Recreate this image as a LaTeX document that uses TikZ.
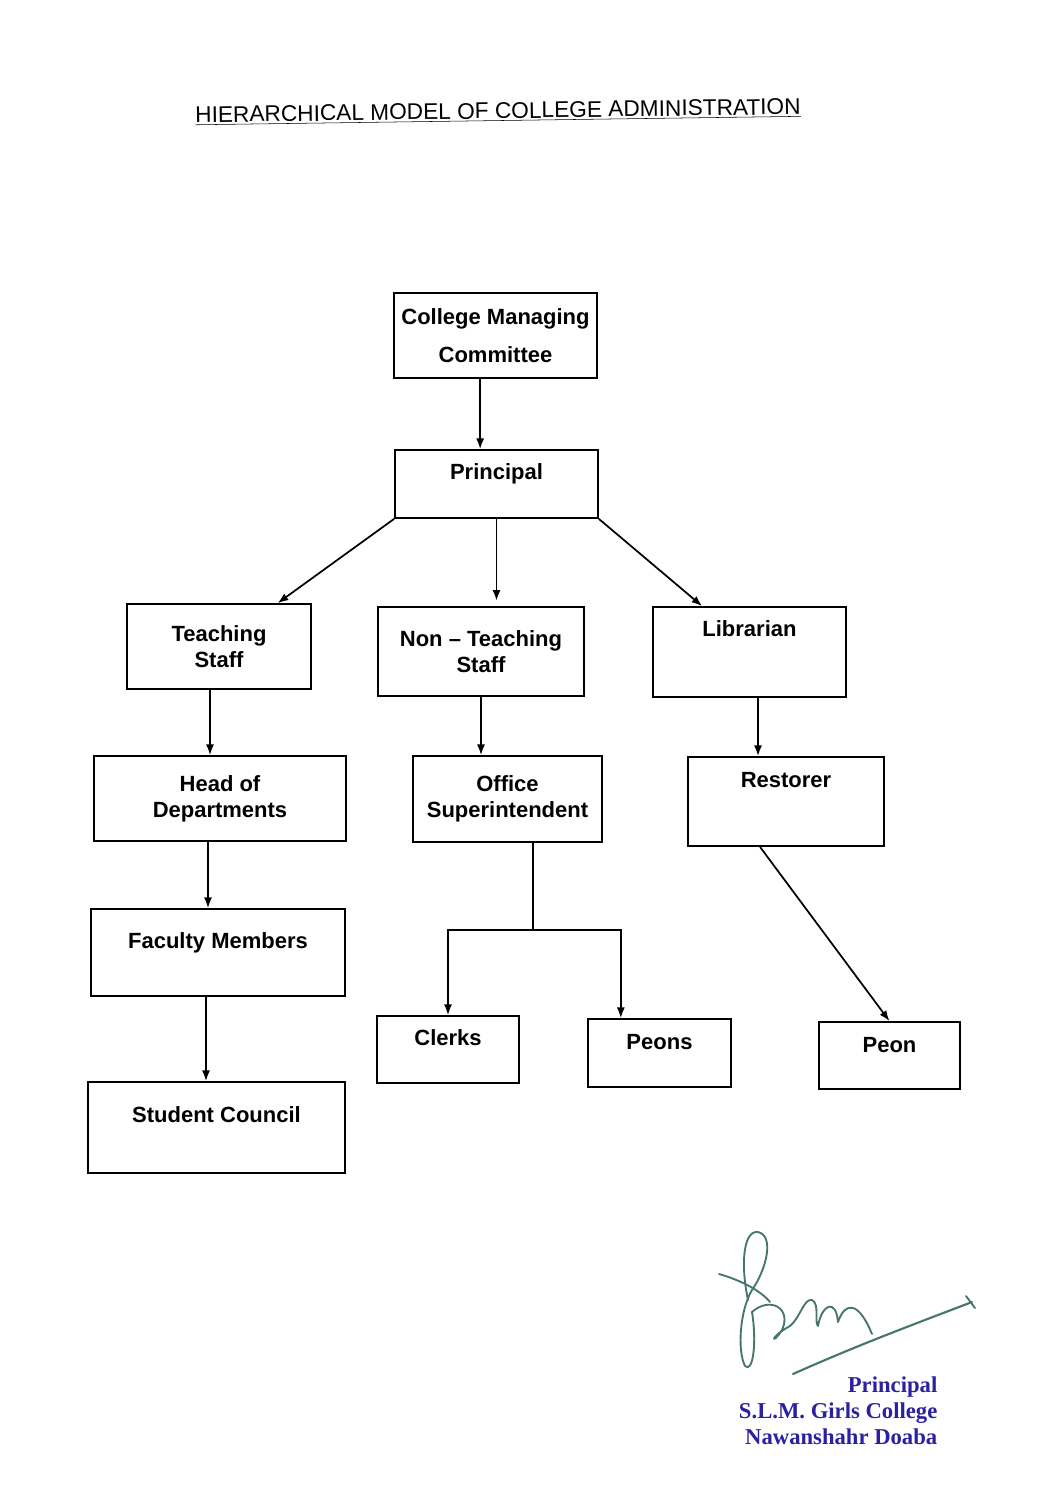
\documentclass[tikz,border=0pt]{standalone}
\usepackage{fontspec}
\setmainfont{Liberation Sans}
\newfontfamily\stampfont{Liberation Serif}
\usetikzlibrary{arrows.meta}

\definecolor{stampblue}{RGB}{42,32,160}
\definecolor{inkteal}{RGB}{70,118,108}

\begin{document}
\begin{tikzpicture}[x=0.75pt, y=-0.75pt,
  box/.style={draw, line width=1.3pt, align=center, font=\fontsize{16.5}{19.5}\selectfont\bfseries},
  wh/.style 2 args={minimum width=#1*0.75pt, minimum height=#2*0.75pt},
  lift/.style={text height=12pt, text depth=#1},
  arr/.style={-{Latex[length=8pt, width=6pt]}, line width=1.3pt}
]
\useasboundingbox (0,0) rectangle (1058,1497);

% title
\node[rotate=0.8, font=\fontsize{17}{20}\selectfont] (title) at (498,112) {\underline{HIERARCHICAL MODEL OF COLLEGE ADMINISTRATION}};

% boxes
\node[box, wh={203}{85}] (cmc) at (495.5,335.5) {College Managing\\[9pt]Committee};
\node[box, wh={203}{68}, lift=18.5pt] (pr) at (496.5,484) {Principal};

\node[box, wh={184}{85}] (ts) at (219,646.5) {Teaching\\Staff};
\node[box, wh={206}{89}] (nts) at (481,651.5) {Non – Teaching\\Staff};
\node[box, wh={193}{90}, lift=35pt] (lib) at (749.5,652) {Librarian};

\node[box, wh={252}{85}] (hod) at (220,798.5) {Head of\\Departments};
\node[box, wh={189}{86}] (os) at (507.5,799) {Office\\Superintendent};
\node[box, wh={196}{89}, lift=32.75pt] (res) at (786,801.5) {Restorer};

\node[box, wh={254}{87}, lift=17.75pt] (fm) at (218,952.5) {Faculty Members};
\node[box, wh={142}{67}, lift=17.75pt] (cl) at (448,1049.5) {Clerks};
\node[box, wh={143}{68}, lift=17pt] (pe) at (659.5,1053) {Peons};
\node[box, wh={141}{67}, lift=16.25pt] (pn) at (889.5,1055.5) {Peon};
\node[box, wh={257}{91}, lift=19.25pt] (sc) at (216.5,1127.5) {Student Council};

% connectors
\draw[arr] ([xshift=-11.5pt]cmc.south) -- ([xshift=-11.5pt]cmc.south |- pr.north);
\draw[arr] (pr.south west) -- ([xshift=44pt]ts.north);
\draw[arr] (pr.south) -- ([yshift=4pt]pr.south |- nts.north);
\draw[arr] (pr.south east) -- ([xshift=-35.5pt]lib.north);

\draw[arr] ([xshift=-6.75pt]ts.south) -- ([xshift=-6.75pt]ts.south |- hod.north);
\draw[arr] (nts.south) -- (nts.south |- os.north);
\draw[arr] ([xshift=6.4pt]lib.south) -- ([xshift=6.4pt]lib.south |- res.north);

\draw[arr] ([xshift=-9pt]hod.south) -- ([xshift=-9pt]hod.south |- fm.north);
\draw[arr] ([xshift=-9pt]fm.south) -- ([xshift=-9pt]fm.south |- sc.north);

\path ([xshift=19pt]os.south) coordinate (osstem) ++(0,87) coordinate (osfork);
\draw[line width=1.3pt] (osstem) -- (osfork);
\draw[arr] (osfork) -| (cl.north);
\draw[arr] (osfork) -| ([xshift=-29pt]pe.north);

\draw[arr] ([xshift=-19.5pt]res.south) -- (pn.north);

% signature
\draw[inkteal, line width=1.4pt, line cap=round, line join=round]
  (719,1274) .. controls (740,1280) and (760,1290) .. (770,1302);
\draw[inkteal, line width=1.4pt, line cap=round, line join=round]
  (748,1300) .. controls (740,1262) and (744,1230) .. (758,1232)
  .. controls (775,1236) and (766,1270) .. (752,1290)
  .. controls (740,1310) and (737,1350) .. (745,1366)
  .. controls (753,1374) and (757,1342) .. (752,1312)
  .. controls (770,1296) and (792,1308) .. (782,1330)
  .. controls (772,1346) and (768,1338) .. (790,1326)
  .. controls (800,1318) and (804,1298) .. (812,1300)
  .. controls (820,1304) and (814,1322) .. (818,1326)
  .. controls (822,1304) and (836,1298) .. (838,1322)
  .. controls (845,1302) and (858,1300) .. (872,1334);
\draw[inkteal, line width=1.6pt, line cap=round]
  (793,1374) .. controls (860,1344) and (920,1322) .. (972,1302);
\draw[inkteal, line width=1.4pt, line cap=round] (966,1296) -- (975,1308);

% stamp
\node[anchor=north east, align=right, text=stampblue,
      font=\stampfont\bfseries\fontsize{17}{19.5}\selectfont] (stamp) at (942,1372)
  {Principal\\S.L.M. Girls College\\Nawanshahr Doaba};
\end{tikzpicture}
\end{document}
